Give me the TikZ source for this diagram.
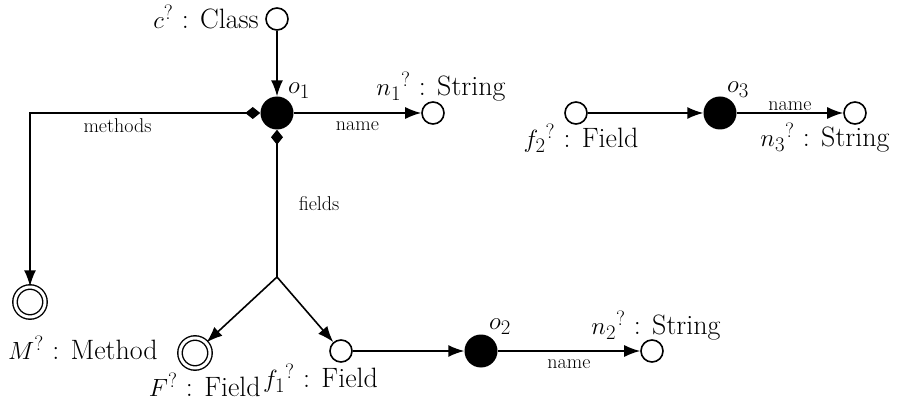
\documentclass[tikz,border=0pt]{standalone}
\usetikzlibrary{arrows.meta}
\begin{document}
\begin{tikzpicture}[x=1pt,y=-1pt,
  obj/.style={circle, fill=black, minimum size=33pt, inner sep=0pt},
  val/.style={circle, draw, line width=1.6pt, fill=white, minimum size=22pt, inner sep=0pt},
  setv/.style={circle, draw, double, double distance=3pt, line width=1.4pt, fill=white, minimum size=30pt, inner sep=0pt},
  lbl/.style={font=\fontsize{28}{32}\selectfont, inner sep=0pt},
  elbl/.style={font=\fontsize{20}{24}\selectfont, inner sep=1pt},
  conn/.style={line width=1.6pt, -{Latex[length=16pt,width=12pt]}},
  compo/.style={line width=1.6pt, {Diamond[length=15pt,width=12pt]}-{Latex[length=16pt,width=12pt]}},
  compstart/.style={line width=1.6pt, {Diamond[length=15pt,width=12pt]}-}]
\useasboundingbox (0,0) rectangle (897,406);
% nodes
\node[val] (c) at (277,19) {};
\node[lbl, anchor=east] (cl) at (259,17) {$c^?$ : Class};
\node[obj] (o1) at (277,113) {};
\node[lbl] (o1l) at (299,91) {$o_1$};
\node[val] (n1) at (433,113) {};
\node[lbl] (n1l) at (441,87) {$n_1{}^?$ : String};
\node[setv] (M) at (30,302) {};
\node[lbl] (Ml) at (83,348) {$M^?$ : Method};
\node[setv] (F) at (195,353) {};
\node[lbl, anchor=east] (Fl) at (261,385) {$F^?$ : Field};
\node[val] (f1) at (341,351) {};
\node[lbl, anchor=west] (f1l) at (263,378) {$f_1{}^?$ : Field};
\node[obj] (o2) at (481,351) {};
\node[lbl] (o2l) at (500,327) {$o_2$};
\node[val] (n2) at (652,351) {};
\node[lbl] (n2l) at (656,326) {$n_2{}^?$ : String};
\node[val] (f2) at (576,113) {};
\node[lbl] (f2l) at (581,138) {$f_2{}^?$ : Field};
\node[obj] (o3) at (720,113) {};
\node[lbl] (o3l) at (738,90) {$o_3$};
\node[val] (n3) at (855,113) {};
\node[lbl] (n3l) at (825,138) {$n_3{}^?$ : String};
\coordinate (j) at (277,277);
% connectors
\draw[conn] (c) -- (o1);
\draw[conn] (o1) -- node[elbl, below=7pt] {name} (n1);
\draw[compo] (o1.west) -| node[elbl, pos=0.31, below=4pt] {methods} (M);
\draw[compstart] (o1.south) -- node[elbl, pos=0.5, right=20pt] {fields} (j);
\draw[conn] (j) -- (F);
\draw[conn] (j) -- (f1);
\draw[conn] (f1) -- (o2);
\draw[conn] (o2) -- node[elbl, below=7pt] {name} (n2);
\draw[conn] (f2) -- (o3);
\draw[conn] (o3) -- node[elbl, above=1pt] {name} (n3);
\end{tikzpicture}
\end{document}
